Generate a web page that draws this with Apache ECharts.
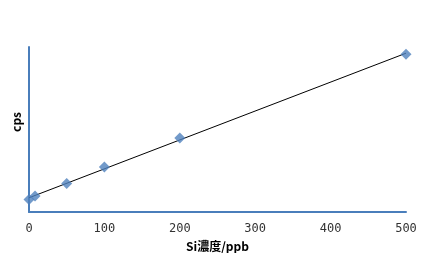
<!DOCTYPE html>
<html><head><meta charset="utf-8">
<script src="https://cdn.jsdelivr.net/npm/echarts@6/dist/echarts.min.js"></script>
<style>html,body{margin:0;padding:0;background:#fff}#c{width:444px;height:253px}</style>
</head><body><div id="c"></div>
<script>
var concentrations = [0, 8, 50, 100, 200, 500];
var cpsValues = [124, 160, 284, 450, 740, 1577];
var xTicks = [0, 100, 200, 300, 400, 500];
var xTitle = 'Si濃度/ppb';
var yTitle = 'cps';

// linear regression trendline
var n = concentrations.length, mx = 0, my = 0;
for (var i = 0; i < n; i++) { mx += concentrations[i]; my += cpsValues[i]; }
mx /= n; my /= n;
var sxy = 0, sxx = 0;
for (var i = 0; i < n; i++) { sxy += (concentrations[i]-mx)*(cpsValues[i]-my); sxx += (concentrations[i]-mx)*(concentrations[i]-mx); }
var slope = sxy/sxx, icpt = my - slope*mx;
var x0 = concentrations[0], x1 = concentrations[n-1];
var trend = [[x0, icpt + slope*x0], [x1, icpt + slope*x1]];

var chart = echarts.init(document.getElementById('c'), null, {renderer: 'canvas'});
chart.setOption({
  animation: false,
  grid: {left: 29, right: 38, top: 47, bottom: 41, containLabel: false, outerBoundsMode: 'none'},
  xAxis: {
    type: 'value', min: xTicks[0], max: xTicks[xTicks.length-1], interval: 100,
    axisLine: {lineStyle: {color: '#4a7ebb', width: 2}},
    axisTick: {show: false}, splitLine: {show: false},
    axisLabel: {margin: 11, color: '#333', fontFamily: 'DejaVu Sans Mono', fontSize: 12},
    name: xTitle, nameLocation: 'middle', nameGap: 26,
    nameTextStyle: {color: '#000', fontWeight: 'bold', fontSize: 12, fontFamily: 'Noto Sans CJK JP', verticalAlign: 'top', lineHeight: 14}
  },
  yAxis: {
    type: 'value', min: 0, max: 1650,
    axisLine: {show: true, lineStyle: {color: '#4a7ebb', width: 2}},
    axisTick: {show: false}, splitLine: {show: false}, axisLabel: {show: false}
  },
  graphic: [{
    type: 'text', left: 10, top: 112, rotation: Math.PI/2,
    style: {text: yTitle, fill: '#000', font: 'bold 12px "Noto Sans CJK JP"'}
  }],
  series: [
    {type: 'line', data: trend, showSymbol: false, lineStyle: {color: '#000', width: 1}, z: 2},
    {type: 'scatter', data: concentrations.map(function(c, i){ return [c, cpsValues[i]]; }),
     symbol: 'diamond', symbolSize: 11, itemStyle: {color: '#4f81bd'}, z: 3}
  ]
});
</script></body></html>
